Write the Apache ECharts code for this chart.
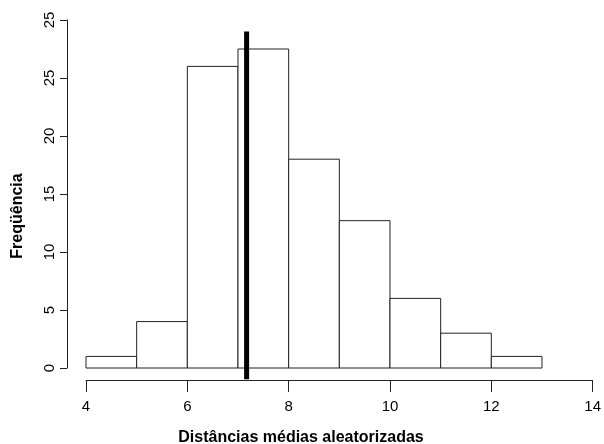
<!DOCTYPE html>
<html>
<head>
<meta charset="utf-8">
<script src="https://cdn.jsdelivr.net/npm/echarts@6/dist/echarts.min.js"></script>
<style>
html,body{margin:0;padding:0;background:#fff;}
#chart{width:604px;height:444px;}
</style>
</head>
<body>
<div id="chart"></div>
<script>
// Histogram bins (left edges, width 1) and counts
var binStarts = [4, 5, 6, 7, 8, 9, 10, 11, 12];
var binWidth = 1;
var counts = [1, 4, 26, 27.5, 18, 12.7, 6, 3, 1];
// Observed mean (vertical reference line)
var observedX = 7.17;
var observedLineRange = [-0.97, 29];
// Y tick labels as printed in the reference
var yTickLabels = ['0', '5', '10', '15', '20', '25', '25'];
var xTitle = 'Distâncias médias aleatorizadas';
var yTitle = 'Freqüência';

var histData = binStarts.map(function (s, i) { return [s, s + binWidth, counts[i]]; });

var chart = echarts.init(document.getElementById('chart'));
var font = 'Liberation Sans, Arial, Helvetica, sans-serif';
chart.setOption({
  animation: false,
  backgroundColor: '#fff',
  grid: { left: 86, right: 11, top: 20, bottom: 76 },
  xAxis: {
    type: 'value', min: 4, max: 14, interval: 2, offset: 12,
    axisLine: { show: true, onZero: false, lineStyle: { color: '#222', width: 1 } },
    axisTick: { show: true, length: 12, lineStyle: { color: '#222' } },
    axisLabel: { margin: 19, color: '#000', fontSize: 15, fontFamily: font },
    splitLine: { show: false }
  },
  yAxis: {
    type: 'value', min: 0, max: 30, interval: 5, offset: 19,
    axisLine: { show: true, onZero: false, lineStyle: { color: '#222', width: 1 } },
    axisTick: { show: true, length: 7, lineStyle: { color: '#222' } },
    axisLabel: {
      rotate: 90, margin: 10, color: '#000', fontSize: 15, fontFamily: font,
      formatter: function (v) { return yTickLabels[Math.round(v / 5)]; }
    },
    splitLine: { show: false }
  },
  graphic: [
    { type: 'text', x: 301, y: 438,
      style: { text: xTitle, font: 'bold 16px ' + font, fill: '#000', align: 'center', verticalAlign: 'middle' } },
    { type: 'text', x: 18, y: 216, rotation: Math.PI / 2,
      style: { text: yTitle, font: 'bold 16px ' + font, fill: '#000', align: 'center', verticalAlign: 'middle' } }
  ],
  series: [
    {
      type: 'custom',
      data: histData,
      encode: { x: [0, 1], y: 2 },
      renderItem: function (params, api) {
        var p0 = api.coord([api.value(0), api.value(2)]);
        var p1 = api.coord([api.value(1), 0]);
        return {
          type: 'rect',
          shape: { x: p0[0], y: p0[1], width: p1[0] - p0[0], height: p1[1] - p0[1] },
          style: { fill: '#fff', stroke: '#222', lineWidth: 1 }
        };
      },
      z: 2
    },
    {
      type: 'line',
      data: [[observedX, observedLineRange[0]], [observedX, observedLineRange[1]]],
      symbol: 'none', clip: false,
      lineStyle: { color: '#000', width: 5 },
      z: 5
    }
  ]
});
</script>
</body>
</html>
